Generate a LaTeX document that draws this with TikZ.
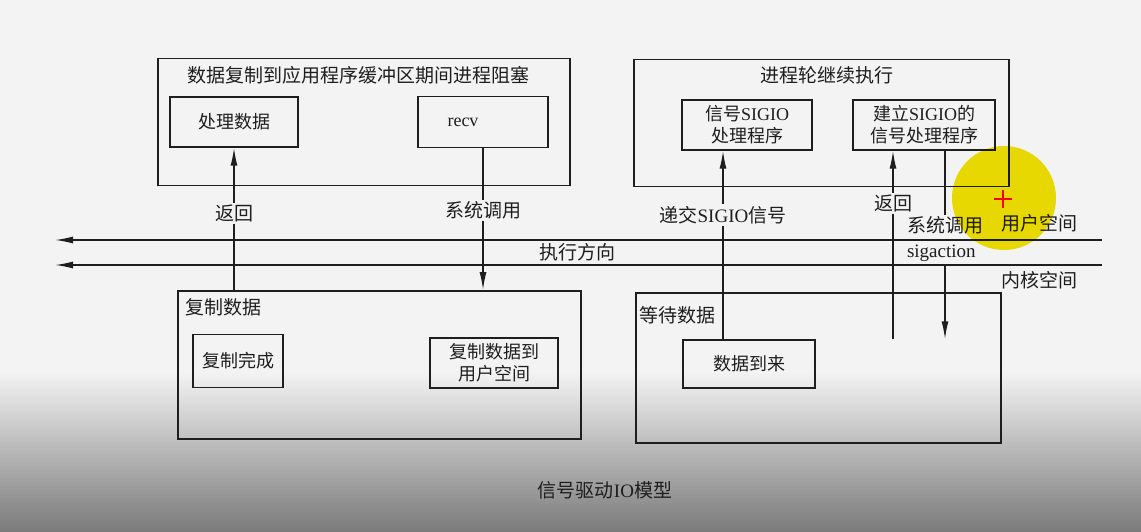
\documentclass[tikz,border=0pt]{standalone}
\usepackage{fontspec}
\setmainfont{Liberation Serif}
\newfontfamily\cjk{Noto Sans CJK SC}
\usetikzlibrary{positioning,arrows.meta,calc}

\definecolor{paper}{HTML}{F3F3F3}
\definecolor{ink}{HTML}{1E1E1E}
\definecolor{marker}{HTML}{F2E300}

\tikzset{
  frame/.style={draw=ink, line width=1.5pt, anchor=north west, inner sep=0pt},
  proc/.style={draw=ink, line width=1.5pt, align=center, inner sep=1pt,
    font=\cjk\fontsize{18}{22}\selectfont},
  call/.style={draw=ink, line width=1.5pt, -{Latex[length=18pt,width=7pt]}},
  tag/.style={fill=paper, inner sep=2pt},
  plain/.style={inner sep=2pt}
}

\begin{document}
\begin{tikzpicture}[x=1pt, y=-1pt, every node/.style={font=\cjk\fontsize{19}{22}\selectfont, text=ink}]
    \fill[paper] (0,0) rectangle (1141,532);
    \shade[top color=paper, bottom color=black!52] (0,372) rectangle (1141,532);

    % user side, blocking copy
    \node[frame, minimum width=412pt, minimum height=127pt] (blk) at (157,58) {};
    \node[plain] (blkt) at (358,75) {数据复制到应用程序缓冲区期间进程阻塞};
    \node[proc, minimum width=128pt, minimum height=50pt] (work) at (234,122) {处理数据};
    \node[proc, minimum width=130pt, minimum height=51pt] (recv) at (483,122) {\rmfamily recv\hspace*{40pt}};

    % user side, signal handler
    \node[frame, minimum width=375pt, minimum height=127pt] (cont) at (633,59) {};
    \node[plain] (contt) at (827,75) {进程轮继续执行};
    \node[proc, minimum width=130pt, minimum height=50pt] (sig) at (747,125) {信号{\rmfamily SIGIO}\\处理程序};
    \node[proc, minimum width=142pt, minimum height=50pt] (setup) at (924,125) {建立{\rmfamily SIGIO}的\\信号处理程序};

    % kernel side
    \node[frame, minimum width=403pt, minimum height=148pt] (copy) at (177,290) {};
    \node[plain, below right=6pt and 6pt of copy.north west, anchor=north west] (copyt) {复制数据};
    \node[proc, minimum width=90pt, minimum height=53pt] (done) at (238,361) {复制完成};
    \node[proc, minimum width=128pt, minimum height=50pt] (move) at (494,363) {复制数据到\\用户空间};

    \node[frame, minimum width=365pt, minimum height=150pt] (wait) at (635,292) {};
    \node[plain, below right=12pt and 2pt of wait.north west, anchor=north west] (waitt) {等待数据};
    \node[proc, minimum width=132pt, minimum height=48pt] (arrive) at (749,364) {数据到来};

    \coordinate (ret) at ([xshift=-31pt]setup.south |- arrive.north);
    \coordinate (sigend) at ([xshift=21pt]setup.south |- arrive.north);

    \draw[call] (copy.north -| work.south) -- node[tag, pos=.54] {返回} (work.south);
    \draw[call] (recv.south) -- node[tag, pos=.44] {系统调用} (recv.south |- copy.north);
    \draw[call] ([xshift=-26pt]arrive.north) -- node[tag, pos=.66] {递交{\rmfamily SIGIO}信号} ([xshift=-26pt]arrive.north |- sig.south);
    \draw[call] (ret) -- node[tag, pos=.72] {返回} (ret |- setup.south);
    \draw[call] ([xshift=21pt]setup.south) -- node[tag, pos=.47, align=left, font=\cjk\fontsize{19}{25}\selectfont] {系统调用\\{\rmfamily sigaction}} (sigend);

    % execution direction
    \coordinate (u0) at (1102,240);
    \coordinate (u1) at (55,240);
    \coordinate (k0) at (1102,265);
    \coordinate (k1) at (55,265);
    \draw[call] (u0) -- (u1);
    \draw[call] (k0) -- (k1);
    \node[plain] (dir) at (577,252) {执行方向};
    \node[plain] (user) at (1039,223) {用户空间};
    \node[plain] (kern) at (1039,280) {内核空间};

    \node[plain] (cap) at (605,490) {信号驱动{\rmfamily IO}模型};

    % pointer highlight
    \fill[marker, blend mode=multiply] (1004,198) circle (52);
    \draw[red, line width=2pt] (994,199) -- (1012,199) (1003,190) -- (1003,208);
\end{tikzpicture}
\end{document}
